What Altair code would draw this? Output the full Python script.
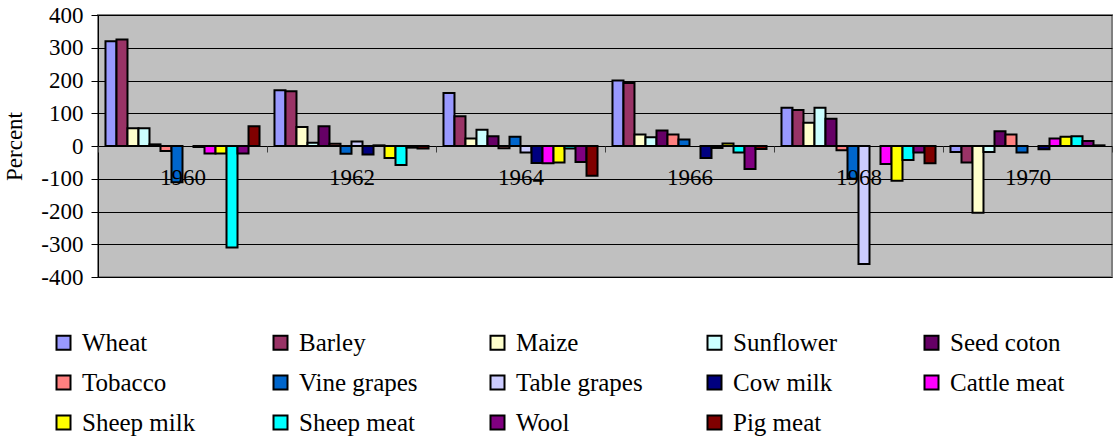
import altair as alt
import pandas as pd

years = ["1960", "1962", "1964", "1966", "1968", "1970"]
crops = ["Wheat", "Barley", "Maize", "Sunflower", "Seed coton",
         "Tobacco", "Vine grapes", "Table grapes", "Cow milk", "Cattle meat",
         "Sheep milk", "Sheep meat", "Wool", "Pig meat"]
colors = ["#9999FF", "#993366", "#FFFFCC", "#CCFFFF", "#660066",
          "#FF8080", "#0066CC", "#CCCCFF", "#000080", "#FF00FF",
          "#FFFF00", "#00FFFF", "#800080", "#800000"]

wheat = [320, 170, 162, 200, 117, -18]
barley = [325, 167, 91, 192, 110, -50]
maize = [54, 58, 23, 35, 71, -204]
sunflower = [54, 10, 50, 27, 117, -18]
seed_coton = [5, 60, 30, 47, 83, 45]
tobacco = [-15, 7, -7, 35, -13, 35]
vine_grapes = [-111, -24, 28, 20, -100, -20]
table_grapes = [None, 14, -20, None, -360, None]
cow_milk = [-3, -26, -52, -37, None, -10]
cattle_meat = [-23, 2, -53, -6, -55, 23]
sheep_milk = [-23, -37, -50, 8, -106, 28]
sheep_meat = [-310, -58, -8, -20, -43, 30]
wool = [-23, -5, -49, -70, -20, 15]
pig_meat = [60, -8, -91, -9, -53, 2]

series = [wheat, barley, maize, sunflower, seed_coton, tobacco, vine_grapes,
          table_grapes, cow_milk, cattle_meat, sheep_milk, sheep_meat, wool, pig_meat]

rows = []
for crop, vals in zip(crops, series):
    for yr, v in zip(years, vals):
        if v is not None:
            rows.append({"Year": yr, "Crop": crop, "Value": v})
df = pd.DataFrame(rows)

FONT = "Liberation Serif"

chart = alt.Chart(df).mark_bar(stroke="black", strokeWidth=2).encode(
    x=alt.X("Year:N", sort=years,
            scale=alt.Scale(paddingInner=0, paddingOuter=0),
            axis=alt.Axis(title=None, orient="bottom", offset=-131,
                          labelFont=FONT, labelFontSize=23, labelColor="black",
                          labelAngle=0, tickBand="extent", tickSize=6,
                          tickColor="#404040", domain=False, labelPadding=14,
                          zindex=1)),
    xOffset=alt.XOffset("Crop:N", sort=crops,
                        scale=alt.Scale(paddingInner=0, paddingOuter=0.68)),
    y=alt.Y("Value:Q", scale=alt.Scale(domain=[-400, 400], nice=False),
            axis=alt.Axis(values=list(range(-400, 401, 100)), title="Percent",
                          labelExpr="datum.value < 0 ? '-' + abs(datum.value) : '' + datum.value",
                          labelFont=FONT, labelFontSize=23, labelColor="black",
                          tickSize=7, tickColor="black", domainColor="black",
                          labelPadding=8, titleFont=FONT, titleFontSize=23,
                          titleFontWeight="normal", titleColor="black",
                          titlePadding=14, gridColor="black", gridWidth=1)),
    color=alt.Color("Crop:N", sort=crops,
                    scale=alt.Scale(domain=crops, range=colors),
                    legend=alt.Legend(title=None, orient="none", legendX=-47,
                                      legendY=315, direction="horizontal",
                                      columns=5, gridAlign="all",
                                      columnPadding=59, rowPadding=14,
                                      symbolType="square", symbolSize=196,
                                      symbolStrokeColor="black",
                                      symbolStrokeWidth=2,
                                      labelFont=FONT, labelFontSize=25,
                                      labelColor="black", labelOffset=6,
                                      labelLimit=0)),
).properties(
    width=1014, height=262,
    autosize=alt.AutoSizeParams(type="none"),
    padding={"left": 98, "top": 15, "right": 1, "bottom": 162},
).configure(
    font=FONT
).configure_legend(
    labelFont=FONT
).configure_view(
    fill="#C0C0C0", stroke="#808080", strokeWidth=2
)

chart.save("out.html", embed_options={"renderer": "svg", "actions": False})
